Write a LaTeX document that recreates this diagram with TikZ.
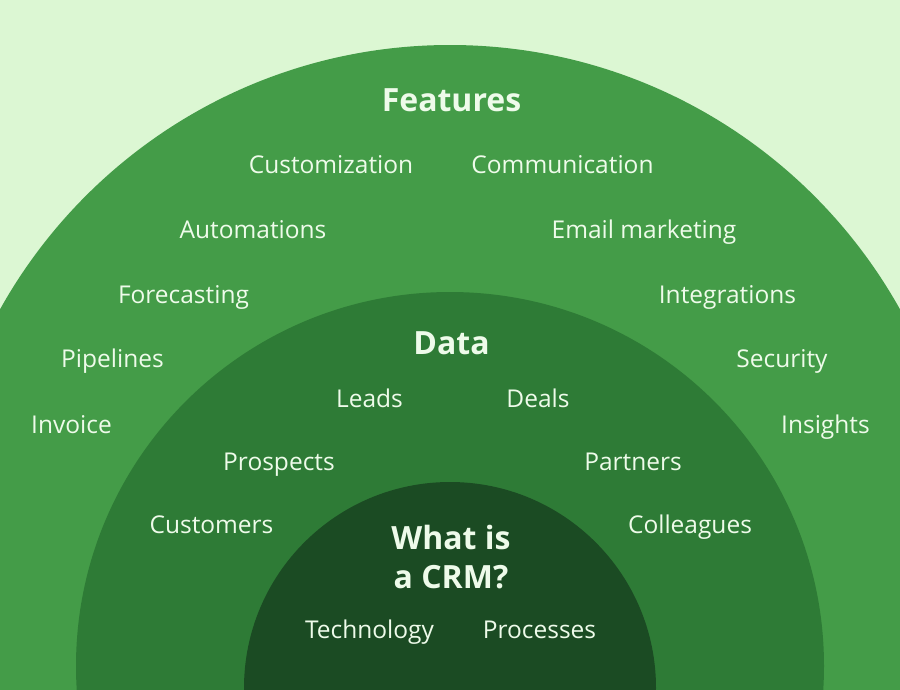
\documentclass[tikz,border=0pt]{standalone}
\usepackage{fontspec}
\setmainfont{Open Sans}
\definecolor{bgc}{HTML}{DCF7D3}
\definecolor{outerc}{HTML}{449C48}
\definecolor{midc}{HTML}{2E7B36}
\definecolor{innerc}{HTML}{1B4B23}
\definecolor{txtc}{HTML}{EEFBEA}
\begin{document}
\begin{tikzpicture}[x=1pt,y=-1pt,
  txt/.style={text=txtc,font=\fontsize{24.5}{28}\selectfont,anchor=base,inner sep=0pt},
  ttl/.style={text=txtc,font=\fontsize{32}{37}\selectfont\bfseries,anchor=base,inner sep=0pt}]
\useasboundingbox (0,0) rectangle (900,689);
\fill[bgc] (0,0) rectangle (900,689);
\begin{scope}
\clip (0,0) rectangle (900,689);
\fill[outerc] (450,560) circle[radius=515];
\fill[midc] (450,666) circle[radius=374];
\fill[innerc] (450,688) circle[radius=206];
\end{scope}
% Features ring
\node[ttl] (feat) at (451.5,111) {Features};
\node[txt] (f1) at (331,173) {Customization};
\node[txt] (f2) at (562.5,173) {Communication};
\node[txt] (f3) at (253,238) {Automations};
\node[txt] (f4) at (644,238) {Email marketing};
\node[txt] (f5) at (183.5,303) {Forecasting};
\node[txt] (f6) at (727.5,303) {Integrations};
\node[txt] (f7) at (112.5,367) {Pipelines};
\node[txt] (f8) at (782,367) {Security};
\node[txt] (f9) at (71.5,433) {Invoice};
\node[txt] (f10) at (825.5,433) {Insights};
% Data ring
\node[ttl] (data) at (451.5,354) {Data};
\node[txt] (d1) at (369.5,407) {Leads};
\node[txt] (d2) at (538,407) {Deals};
\node[txt] (d3) at (279,470) {Prospects};
\node[txt] (d4) at (633,470) {Partners};
\node[txt] (d5) at (211.5,533) {Customers};
\node[txt] (d6) at (690,533) {Colleagues};
% Core
\node[ttl] (crm1) at (451,549) {What is};
\node[ttl] (crm2) at (451,588) {a CRM?};
\node[txt] (c1) at (369.5,638) {Technology};
\node[txt] (c2) at (539.5,638) {Processes};
\end{tikzpicture}
\end{document}
